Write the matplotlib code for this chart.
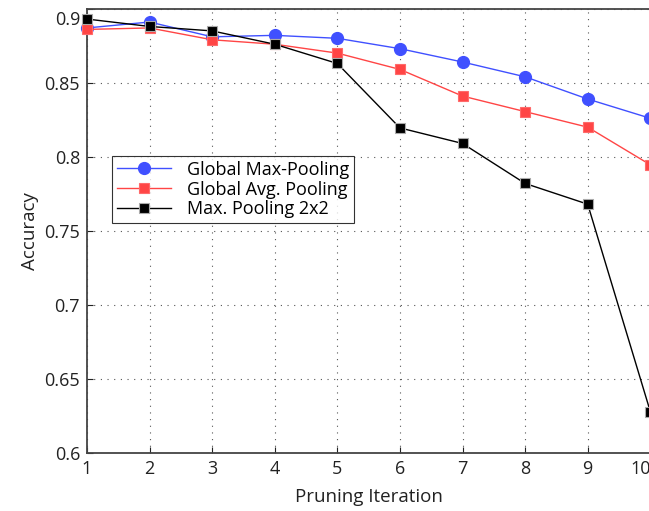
import numpy as np
import matplotlib
matplotlib.use("Agg")
import matplotlib.pyplot as plt
import matplotlib.transforms as mtransforms

plt.rcParams['font.family'] = ['Open Sans', 'DejaVu Sans']

# data
iters = [1, 2, 3, 4, 5, 6, 7, 8, 9, 10]
acc_gmax = [0.887, 0.891, 0.881, 0.882, 0.880, 0.873, 0.864, 0.854, 0.839, 0.826]
acc_gavg = [0.886, 0.887, 0.879, 0.876, 0.870, 0.859, 0.841, 0.8305, 0.820, 0.7946]
acc_max2 = [0.893, 0.888, 0.885, 0.876, 0.863, 0.8195, 0.809, 0.782, 0.768, 0.628]
labels = ["Global Max-Pooling", "Global Avg. Pooling", "Max. Pooling 2x2"]
yticks = [0.6, 0.65, 0.7, 0.75, 0.8, 0.85, 0.9]

fig = plt.figure(figsize=(6.49, 5.11), dpi=100)
ax = fig.add_axes([0.134, 0.1135, 0.868, 0.8695])

ax.plot(iters, acc_gmax, color="#4050ff", lw=1, marker="o", ms=8.5,
        mec="#4050ff", mfc="#4050ff", label=labels[0], clip_on=False, zorder=3)
ax.plot(iters, acc_gavg, color="#ff4545", lw=1, marker="s", ms=7.5,
        mec="#ff6a6a", mew=0.8, mfc="#ff4545", label=labels[1], clip_on=False, zorder=4)
ax.plot(iters, acc_max2, color="black", lw=1, marker="s", ms=7.5,
        mec="#aaaaaa", mew=0.8, mfc="black", label=labels[2], clip_on=False, zorder=5)

ax.set_xlim(1, 10)
ax.set_ylim(0.6, 0.9)
ax.set_xticks(iters)
ax.set_yticks(yticks)
ax.set_yticklabels(["0.6", "0.65", "0.7", "0.75", "0.8", "0.85", "0.9"])
ax.grid(True, linestyle=(0, (1, 5)), color="#555555", lw=0.8)
ax.tick_params(direction="in", length=4, labelsize=13, colors="#222222", pad=5)
for s in ax.spines.values():
    s.set_color("#444444")
    s.set_linewidth(1.3)

# top y label sits a bit lower, last x label a bit left in the reference
lbl = ax.get_yticklabels()[-1]
lbl.set_transform(lbl.get_transform() + mtransforms.ScaledTranslation(0, -9 / 100, fig.dpi_scale_trans))
lbl = ax.get_xticklabels()[-1]
lbl.set_transform(lbl.get_transform() + mtransforms.ScaledTranslation(-10 / 100, 0, fig.dpi_scale_trans))

ax.set_xlabel("Pruning Iteration", fontsize=13.5, color="#222222", labelpad=7)
ax.set_ylabel("Accuracy", fontsize=13.5, color="#222222", labelpad=4)

leg = ax.legend(loc="upper left", bbox_to_anchor=(0.045, 0.668), fontsize=13,
                frameon=True, fancybox=False, edgecolor="black", borderpad=0.25,
                labelspacing=0.1, handlelength=3.0, handletextpad=0.9, borderaxespad=0)
leg.get_frame().set_linewidth(0.8)

fig.savefig("out.png", dpi=100)
